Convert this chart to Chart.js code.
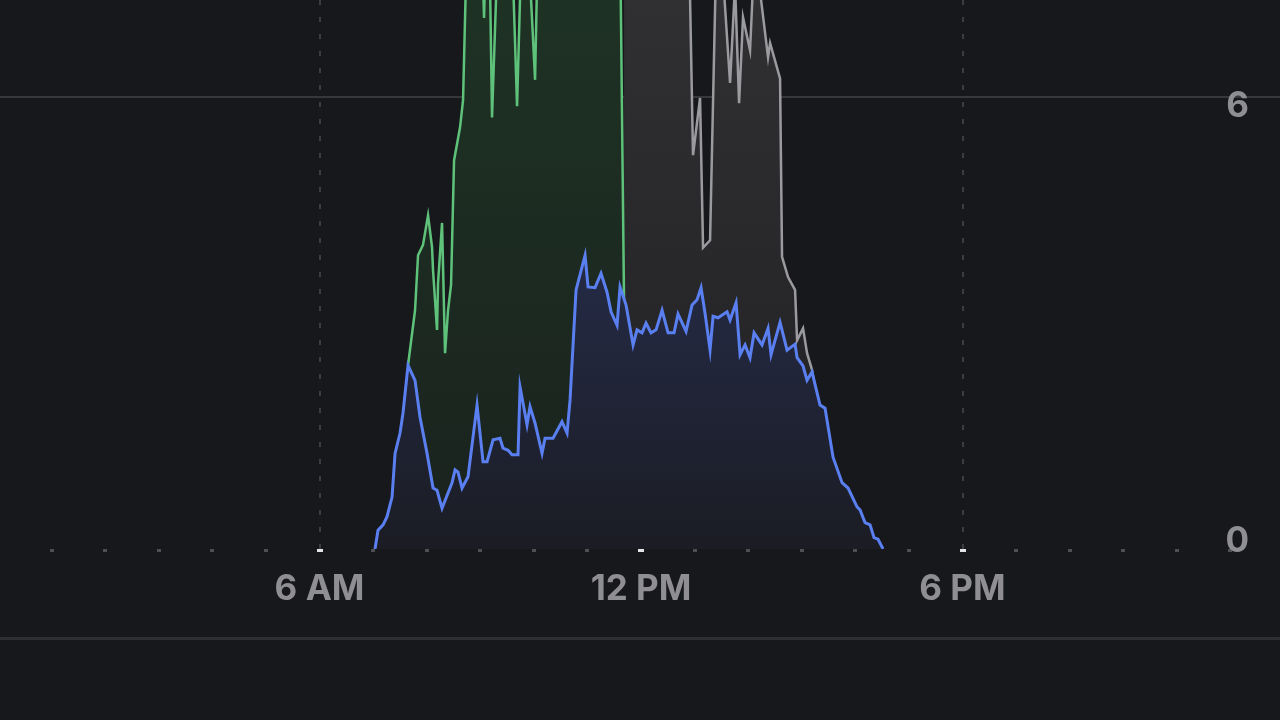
<!DOCTYPE html>
<html>
<head>
<meta charset="utf-8">
<script src="https://cdn.jsdelivr.net/npm/chart.js@4.4.1/dist/chart.umd.min.js"></script>
<style>
  html, body { margin: 0; padding: 0; background: #17181b; width: 1280px; height: 720px; overflow: hidden; }
  #wrap { position: absolute; left: -18px; top: 0; width: 1318px; height: 620px; }
  #sep { position: absolute; left: 0; top: 637px; width: 1280px; height: 3px; background: #2e2f32; }
</style>
</head>
<body>
<div id="wrap"><canvas id="energyChart"></canvas></div>
<div id="sep"></div>
<script>
// horas del día (0-24) y valores
const blueHours = [7.036, 7.092, 7.186, 7.260, 7.354, 7.410, 7.503, 7.559, 7.652, 7.783, 7.876, 8.007, 8.119, 8.193, 8.287, 8.473, 8.530, 8.585, 8.660, 8.772, 8.940, 9.052, 9.127, 9.239, 9.369, 9.425, 9.519, 9.593, 9.705, 9.743, 9.873, 9.929, 10.023, 10.153, 10.209, 10.358, 10.526, 10.620, 10.676, 10.788, 10.956, 11.012, 11.142, 11.254, 11.366, 11.441, 11.553, 11.609, 11.721, 11.852, 11.926, 12.020, 12.094, 12.187, 12.281, 12.393, 12.505, 12.617, 12.691, 12.841, 12.953, 13.046, 13.121, 13.195, 13.289, 13.345, 13.438, 13.606, 13.662, 13.774, 13.849, 13.942, 14.035, 14.110, 14.259, 14.371, 14.427, 14.595, 14.726, 14.875, 14.913, 15.024, 15.099, 15.192, 15.341, 15.435, 15.584, 15.752, 15.864, 16.032, 16.088, 16.181, 16.275, 16.349, 16.424, 16.517];
const blueValues = [0, 0.25, 0.32, 0.43, 0.69, 1.27, 1.54, 1.81, 2.44, 2.24, 1.75, 1.27, 0.81, 0.78, 0.54, 0.88, 1.05, 1.02, 0.81, 0.96, 1.91, 1.16, 1.16, 1.45, 1.47, 1.34, 1.31, 1.25, 1.25, 2.15, 1.65, 1.89, 1.67, 1.27, 1.47, 1.47, 1.69, 1.54, 1.98, 3.44, 3.90, 3.48, 3.47, 3.66, 3.41, 3.15, 2.97, 3.48, 3.24, 2.71, 2.91, 2.87, 3.00, 2.87, 2.91, 3.17, 2.87, 2.87, 3.12, 2.89, 3.24, 3.31, 3.47, 3.13, 2.64, 3.09, 3.07, 3.15, 3.04, 3.27, 2.58, 2.71, 2.54, 2.87, 2.71, 2.93, 2.58, 3.01, 2.64, 2.72, 2.54, 2.43, 2.24, 2.35, 1.91, 1.87, 1.22, 0.88, 0.81, 0.56, 0.52, 0.35, 0.32, 0.15, 0.13, 0];

const greenHours = [7.652, 7.783, 7.839, 7.932, 8.026, 8.100, 8.119, 8.193, 8.212, 8.287, 8.343, 8.399, 8.455, 8.511, 8.623, 8.679, 8.735, 8.903, 9.033, 9.071, 9.108, 9.164, 9.220, 9.351, 9.463, 9.575, 9.687, 9.780, 9.892, 10.023, 10.079, 10.209, 10.396, 10.582, 10.769, 10.956, 11.142, 11.329, 11.516, 11.609, 11.684, 11.721];
const greenValues = [2.44, 3.17, 3.90, 4.04, 4.43, 4.01, 3.70, 2.91, 3.53, 4.33, 2.60, 3.17, 3.51, 5.16, 5.60, 5.96, 7.6, 8.3, 8.0, 7.05, 8.2, 8.4, 5.73, 8.5, 8.6, 8.4, 5.88, 8.3, 8.1, 6.23, 8.2, 8.5, 8.7, 8.4, 8.8, 9.0, 8.7, 8.9, 8.6, 8.2, 3.24, 0];

const grayHours = [11.684, 11.982, 12.355, 12.729, 12.897, 12.971, 13.102, 13.158, 13.289, 13.345, 13.401, 13.531, 13.662, 13.755, 13.830, 13.904, 14.035, 14.091, 14.222, 14.371, 14.409, 14.595, 14.632, 14.744, 14.875, 14.913, 15.024, 15.099, 15.192, 15.267, 15.304];
const grayValues = [8.3, 8.6, 8.8, 8.5, 8.0, 5.23, 5.99, 4.00, 4.10, 5.96, 7.8, 7.6, 6.19, 7.5, 5.92, 7.06, 6.62, 7.5, 7.4, 6.53, 6.72, 6.25, 3.88, 3.61, 3.44, 2.77, 2.93, 2.60, 2.38, 2.05, 0];

const hourTicks = [0, 1, 2, 3, 4, 5, 6, 7, 8, 9, 10, 11, 12, 13, 14, 15, 16, 17, 18, 19, 20, 21, 22, 23, 24];
const labelHours = [6, 12, 18];
const labelTexts = ['6 AM', '12 PM', '6 PM'];
const yTicks = [0, 6];
const yTickLabels = ['0', '6'];

const toPoints = (hours, values) => hours.map((h, i) => ({ x: h, y: values[i] }));

const labelFont = { family: 'Inter, "Liberation Sans", sans-serif', size: 35, weight: '700' };
const labelColor = '#8e8e93';

function verticalGradient(ctx, top, bottom) {
    const area = ctx.chart.chartArea;
    if (!area) return top;
    const g = ctx.chart.ctx.createLinearGradient(0, area.top, 0, area.bottom);
    g.addColorStop(0, top);
    g.addColorStop(1, bottom);
    return g;
}

// etiquetas del eje Y dibujadas dentro del área, a la derecha
const yLabelsPlugin = {
    id: 'yLabels',
    afterDraw(chart) {
        const scale = chart.scales.y;
        const ctx = chart.ctx;
        ctx.save();
        ctx.font = `${labelFont.weight} ${labelFont.size}px ${labelFont.family}`;
        ctx.fillStyle = labelColor;
        ctx.textAlign = 'right';
        yTicks.forEach((v, i) => {
            const py = scale.getPixelForValue(v);
            ctx.textBaseline = v === 0 ? 'bottom' : 'middle';
            ctx.fillText(yTickLabels[i], scale.right - 19 - 16, py + (v === 0 ? 10 : 9));
        });
        ctx.restore();
    }
};

const ctx = document.getElementById('energyChart').getContext('2d');
new Chart(ctx, {
    type: 'line',
    data: {
        datasets: [{
            label: 'Casa',
            data: toPoints(blueHours, blueValues),
            borderColor: '#5a7ff0',
            borderWidth: 3,
            backgroundColor: ctx => verticalGradient(ctx, 'rgb(44,56,100)', 'rgb(27,28,36)'),
            fill: 'origin',
            pointRadius: 0,
            tension: 0
        }, {
            label: 'Solar',
            data: toPoints(greenHours, greenValues),
            borderColor: '#5ec27a',
            borderWidth: 2.5,
            backgroundColor: ctx => verticalGradient(ctx, 'rgb(30,50,36)', 'rgb(26,34,30)'),
            fill: 'origin',
            pointRadius: 0,
            tension: 0
        }, {
            label: 'Red',
            data: toPoints(grayHours, grayValues),
            borderColor: '#9b9b9f',
            borderWidth: 2.5,
            backgroundColor: ctx => verticalGradient(ctx, 'rgb(48,48,50)', 'rgb(32,32,35)'),
            fill: 'origin',
            pointRadius: 0,
            tension: 0
        }]
    },
    options: {
        responsive: true,
        maintainAspectRatio: false,
        animation: false,
        layout: { padding: 0 },
        plugins: {
            legend: { display: false },
            tooltip: { enabled: false }
        },
        scales: {
            x: {
                type: 'linear',
                min: 0,
                max: 24,
                afterBuildTicks: s => { s.ticks = hourTicks.map(v => ({ value: v })); },
                afterFit: s => { s.height = 71; },
                grid: {
                    color: c => labelHours.includes(c.tick.value) ? '#3c3d41' : 'transparent',
                    lineWidth: 2,
                    drawTicks: true,
                    tickLength: 3,
                    tickWidth: c => labelHours.includes(c.tick.value) ? 6 : 4,
                    tickColor: c => labelHours.includes(c.tick.value) ? '#e4e4e6' : '#4e4f53'
                },
                border: { display: false, dash: [5, 12] },
                ticks: {
                    autoSkip: false,
                    maxRotation: 0,
                    padding: 16,
                    color: labelColor,
                    font: labelFont,
                    callback: v => {
                        const i = labelHours.indexOf(v);
                        return i >= 0 ? labelTexts[i] : '';
                    }
                }
            },
            y: {
                position: 'right',
                min: 0,
                max: 7.29,
                afterBuildTicks: s => { s.ticks = yTicks.map(v => ({ value: v })); },
                grid: {
                    color: c => c.tick.value === 0 ? 'transparent' : '#37383b',
                    lineWidth: 2,
                    drawTicks: false
                },
                border: { display: false },
                ticks: { display: false }
            }
        }
    },
    plugins: [yLabelsPlugin]
});
</script>
</body>
</html>
